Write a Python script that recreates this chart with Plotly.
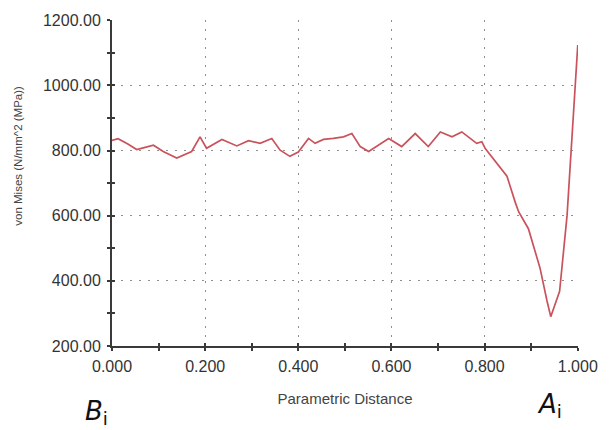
import plotly.graph_objects as go

# Parametric distance along the probe path and von Mises stress (MPa)
distance = [0.000, 0.013, 0.034, 0.053, 0.067, 0.089, 0.110, 0.139, 0.171, 0.189,
            0.203, 0.236, 0.268, 0.293, 0.318, 0.343, 0.361, 0.382, 0.400, 0.422,
            0.436, 0.454, 0.475, 0.497, 0.515, 0.533, 0.551, 0.594, 0.622, 0.651,
            0.679, 0.705, 0.730, 0.751, 0.783, 0.794, 0.801, 0.848, 0.866, 0.873,
            0.894, 0.919, 0.934, 0.942, 0.961, 0.977, 1.000]
von_mises = [831, 836, 820, 803, 808, 816, 797, 777, 797, 842,
             807, 834, 814, 830, 822, 837, 801, 782, 795, 837,
             822, 834, 837, 842, 852, 812, 797, 837, 812, 852,
             812, 857, 842, 857, 822, 827, 807, 721, 640, 612,
             560, 439, 338, 290, 368, 600, 1124]

x_ticks = [0.0, 0.2, 0.4, 0.6, 0.8, 1.0]
y_ticks = [200, 400, 600, 800, 1000, 1200]

FONT = "Liberation Sans, Arial, sans-serif"
AXIS_COLOR = "#3a3a3a"
GRID = dict(showgrid=True, gridcolor="#8f8f8f", gridwidth=1, griddash="2px,7px")

fig = go.Figure()
fig.add_trace(go.Scatter(
    x=distance, y=von_mises, mode="lines",
    line=dict(color="#c9525c", width=1.7),
    showlegend=False, hoverinfo="x+y",
))

fig.update_layout(
    width=611, height=430,
    margin=dict(l=112, r=33, t=15, b=84),
    paper_bgcolor="white", plot_bgcolor="white",
    font=dict(family=FONT, color="#333333"),
    xaxis=dict(
        range=[0, 1.0005], tickvals=x_ticks, tickformat=".3f",
        showline=True, linecolor=AXIS_COLOR, linewidth=2,
        ticks="outside", ticklen=3, tickwidth=1.5, tickcolor=AXIS_COLOR,
        minor=dict(dtick=0.1, ticks="outside", ticklen=3, tickwidth=1.5,
                   tickcolor=AXIS_COLOR, showgrid=False),
        tickfont=dict(size=16, color="#333333"),
        ticklabelstandoff=2,
        zeroline=False,
        title=dict(text="Parametric Distance", font=dict(size=15, color="#444444"),
                   standoff=19),
        **GRID,
    ),
    yaxis=dict(
        range=[200, 1200.5], tickvals=y_ticks, tickformat=".2f",
        showline=True, linecolor=AXIS_COLOR, linewidth=2,
        ticks="outside", ticklen=3, tickwidth=1.5, tickcolor=AXIS_COLOR,
        minor=dict(dtick=100, ticks="outside", ticklen=3, tickwidth=1.5,
                   tickcolor=AXIS_COLOR, showgrid=False),
        tickfont=dict(size=16, color="#333333"),
        ticklabelstandoff=3,
        zeroline=False,
        **GRID,
    ),
    # companion axes carrying the inner half of the crossing tick marks
    xaxis2=dict(
        overlaying="x", range=[0, 1.0005], tickvals=x_ticks, showticklabels=False,
        showgrid=False, zeroline=False, showline=False,
        ticks="inside", ticklen=3, tickwidth=1.5, tickcolor=AXIS_COLOR,
        minor=dict(dtick=0.1, ticks="inside", ticklen=3, tickwidth=1.5,
                   tickcolor=AXIS_COLOR),
    ),
    yaxis2=dict(
        overlaying="y", range=[200, 1200.5], tickvals=y_ticks, showticklabels=False,
        showgrid=False, zeroline=False, showline=False,
        ticks="inside", ticklen=3, tickwidth=1.5, tickcolor=AXIS_COLOR,
        minor=dict(dtick=100, ticks="inside", ticklen=3, tickwidth=1.5,
                   tickcolor=AXIS_COLOR),
    ),
    annotations=[
        dict(text="von Mises (N/mm^2 (MPa))", textangle=-90,
             xref="paper", yref="paper", x=-0.218, y=0.585,
             showarrow=False, font=dict(size=11.5, color="#444444")),
        dict(text="<i>B</i><sub>i</sub>", xref="paper", yref="paper",
             x=-0.062, y=-0.262, showarrow=False,
             font=dict(size=26, color="#111111", family="DejaVu Sans")),
        dict(text="<i>A</i><sub>i</sub>", xref="paper", yref="paper",
             x=0.970, y=-0.238, showarrow=False,
             font=dict(size=26, color="#111111", family="DejaVu Sans")),
    ],
)

# empty trace so the companion axes get drawn
fig.add_trace(go.Scatter(x=[None], y=[None], xaxis="x2", yaxis="y2",
                         showlegend=False, hoverinfo="skip"))

fig.write_html("out.html")
